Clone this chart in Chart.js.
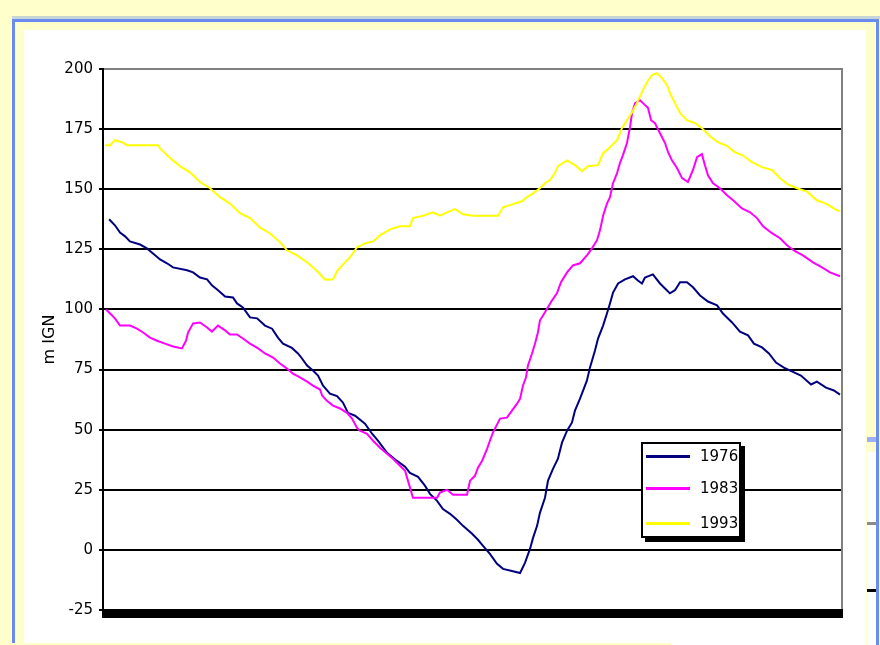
<!DOCTYPE html>
<html>
<head>
<meta charset="utf-8">
<script src="https://cdn.jsdelivr.net/npm/chart.js@4/dist/chart.umd.min.js"></script>
<style>
  html, body { margin: 0; padding: 0; }
  body { width: 880px; height: 645px; overflow: hidden; position: relative; background: #FFFFCC; font-family: "DejaVu Sans", sans-serif; }
  #rule { position: absolute; left: 12px; top: 16px; width: 868px; height: 3px; background: #C6D6D6; }
  #frame { position: absolute; left: 12px; top: 19px; width: 861px; height: 626px; border: 3px solid #6A8CF0; border-bottom: none; }
  #panel { position: absolute; left: 24px; top: 30px; width: 842px; height: 615px; background: #fff; }
  #sidebar { position: absolute; left: 867px; top: 452px; width: 9px; height: 193px; background: #fff; }
  #sideBand { position: absolute; left: 867px; top: 437px; width: 9px; height: 5px; background: #9DB0F2; }
  .dash { position: absolute; left: 867px; width: 9px; height: 3px; }
  #foot { position: absolute; left: 0; top: 643px; width: 671px; height: 2px; background: #FFFFCC; }
  #chart { position: absolute; left: 0; top: 0; }
  #legend { position: absolute; left: 641px; top: 442px; width: 96px; height: 92px; border: 2px solid #000; background: #fff; box-shadow: 4px 4px 0 #000; }
  .row { position: absolute; left: 0; width: 96px; height: 18px; }
  .row .swatch { position: absolute; left: 3px; top: 8px; width: 44px; height: 3px; }
  .row .name { position: absolute; left: 57px; top: 0; line-height: 18px; font-size: 15px; color: #000; }
</style>
</head>
<body>
<div id="rule"></div>
<div id="frame"></div>
<div id="panel"></div>
<div id="sideBand"></div>
<div id="sidebar"></div>
<div class="dash" style="top:522px;background:#8a8a8a"></div>
<div class="dash" style="top:589px;background:#000"></div>
<div id="foot"></div>
<canvas id="chart" width="880" height="645"></canvas>
<div id="legend"></div>

<script>
// Water level (m IGN) through the year, by day of year
const seriesNames = ['1976', '1983', '1993'];

const days1976 = [3.0,5.9,8.4,10.9,13.3,18.3,21.7,24.7,28.2,31.6,
  34.6,41.5,44.5,47.9,51.4,53.8,56.8,60.3,64.2,66.2,
  69.1,72.6,76.1,80.0,83.5,86.4,88.9,93.3,96.3,98.3,
  100.8,103.7,106.2,108.7,112.1,115.6,118.5,121.0,124.5,129.4,
  132.9,135.8,140.3,145.2,149.2,151.6,155.6,159.0,161.5,165.0,
  167.9,171.4,174.8,177.8,182.3,185.2,187.7,191.1,194.6,197.6,
  202.0,206.0,208.4,210.9,212.4,214.4,215.8,218.3,219.8,222.3,
  224.7,226.7,229.2,231.6,233.1,235.6,239.0,240.5,243.0,244.5,
  247.0,248.9,250.4,251.9,254.4,257.8,261.8,264.2,266.2,267.7,
  271.6,275.1,278.1,280.0,282.5,285.0,288.4,291.4,294.9,298.8,
  303.3,306.2,310.7,314.6,318.6,321.5,325.5,328.9,332.4,336.3,
  341.3,344.7,349.7,352.6,357.1,361.0,364.0];
const level1976 = [137.5,135,132,130.4,128.3,127,125.4,123.3,120.8,119.2,
  117.5,116.3,115.4,113.3,112.5,110,108,105.4,105,102.5,
  100.8,96.7,96.3,93.3,92,88.3,85.8,84,81.7,79.6,
  76.7,74.6,72.5,68.3,65,64,61.3,57,55.8,52.5,
  48.3,45.4,40.4,37,34.6,32,30.4,26.7,23.3,20.4,
  17,15,12.5,10,6.7,4.2,1.7,-1.7,-5.8,-7.9,
  -8.8,-9.6,-5.4,0.4,5,10,15.4,21.7,28.8,33.8,
  37.9,44.6,49.6,52.9,57.9,62.9,70.4,75.8,82.9,87.9,
  93.3,98.3,102.5,107,110.8,112.5,113.8,112,110.8,113.3,
  114.6,110.8,108.3,106.7,108,111.3,111.3,109.2,105.8,103.3,
  101.7,98.3,94.6,90.8,89.2,85.8,84.2,81.7,77.9,75.8,
  73.8,72.5,68.8,70,67.5,66.3,64.6];

const days1983 = [1.5,3.5,5.9,8.4,13.3,16.8,19.8,23.2,26.7,30.6,
  34.6,39.0,41.0,42.0,44.5,47.9,51.4,53.8,56.8,60.3,
  62.7,66.2,69.1,72.6,76.6,80.0,84.0,87.4,90.9,93.8,
  97.3,100.8,103.7,107.2,108.2,110.6,113.6,117.1,120.5,123.0,
  125.4,126.9,130.4,133.4,136.8,140.3,143.2,146.7,149.2,150.6,
  152.1,153.1,165.0,166.4,169.9,172.9,179.8,181.3,183.7,185.2,
  187.2,189.7,191.1,192.6,196.1,199.5,202.0,204.5,206.0,207.4,
  208.9,209.9,211.9,213.4,214.8,215.8,218.3,221.8,224.2,226.2,
  229.2,232.1,235.6,239.0,241.5,244.0,245.5,247.0,248.9,250.4,
  251.9,253.9,255.3,256.8,258.8,260.3,261.3,262.8,265.2,266.7,
  269.2,270.7,272.6,275.1,277.6,279.1,281.0,283.5,286.0,288.9,
  291.4,293.4,295.8,297.3,298.8,301.3,304.7,308.2,311.2,315.6,
  319.6,323.0,326.0,330.4,334.4,337.8,341.8,345.7,350.7,355.1,
  359.1,364.0];
const level1983 = [100,98.3,96.3,93.3,93.3,92,90.4,88.3,87,85.8,
  84.6,83.8,87,90.4,94.2,94.6,92.5,90.8,93.3,91.3,
  89.6,89.6,87.9,85.8,83.8,81.7,80,77.5,75.4,73.3,
  71.7,70,68.3,66.7,64.2,62,60,58.8,57,54.6,
  50.8,49.6,48.3,45.4,42.5,40,37.9,35,32.9,28.8,
  24.6,21.7,21.7,23.8,25,22.9,22.9,28.8,30.8,34.2,
  37,42,45.4,48.8,54.6,55,57.9,60.8,62.9,68.3,
  71.7,76.7,81.7,85.8,90.4,95.4,98.8,103.8,106.7,111.3,
  115.4,118.3,119.2,122.5,125.4,128.8,133,139,144,146.7,
  152.5,156.7,160.8,164.2,169.2,175.8,181.7,185.8,187,185.8,
  183.8,178.7,177.5,173.3,169.2,165.4,162,158.8,154.6,153,
  158,163.3,164.6,160,155.8,152.5,150.4,147.5,145.4,142,
  140.4,138,134.6,131.7,129.6,126.7,124.2,122.5,119.6,117.5,
  115.4,113.8];

const days1993 = [1.0,3.5,5.9,9.4,11.9,27.2,28.2,33.1,38.0,43.0,
  47.9,52.9,57.8,62.7,67.7,72.6,77.6,82.5,87.4,90.9,
  95.8,100.8,105.7,109.6,113.6,115.6,119.5,122.0,125.4,129.4,
  133.4,136.8,141.7,146.7,151.6,153.1,158.0,163.0,166.4,169.9,
  173.9,177.8,182.7,195.1,197.6,202.5,206.9,209.4,212.4,215.8,
  218.3,220.8,223.2,224.7,229.2,233.1,236.6,239.5,244.5,247.0,
  250.4,253.9,256.3,258.8,261.3,263.7,266.2,268.7,271.2,273.6,
  276.1,278.6,280.0,282.5,285.0,288.4,292.4,295.8,299.8,303.7,
  308.2,312.1,316.1,320.5,325.5,330.4,334.4,338.3,342.8,347.7,
  352.6,357.6,361.5,364.0];
const level1993 = [168.3,168.3,170.4,169.6,168.3,168.3,167,163,159.6,157,
  153,150.4,146.7,144,140,138,134,131.6,128,124.6,
  122.5,119.6,116,112.5,112.5,116,119.6,121.7,125.8,127.5,
  128.3,130.8,133.3,134.6,134.6,138,139,140.4,139,140.4,
  141.7,139.6,139,139,142.5,143.8,145,146.7,148.3,150.4,
  152.5,153.8,156.7,159.6,162,160,157.5,159.6,160,165,
  167.5,170.4,175.4,178.7,182,185.8,190.4,194.6,197.5,198.3,
  196.2,193.3,190,185.8,181.7,178.7,177.5,175.4,172,169.6,
  168,165.4,164,161.3,159.2,158,154.6,152,150.4,149,
  145.4,143.8,141.7,140.8];

const yTickValues = [-25, 0, 25, 50, 75, 100, 125, 150, 175, 200];

const toPoints = (days, levels) => days.map((d, i) => ({ x: d, y: levels[i] }));

// Plot frame: grey right edge and heavy black base bar
const plotFrame = {
  id: 'plotFrame',
  afterDraw(chart) {
    const { ctx, chartArea: a } = chart;
    ctx.save();
    ctx.fillStyle = '#808080';
    ctx.fillRect(a.right - 1, a.top - 1, 2, a.bottom - a.top + 3);
    ctx.fillStyle = '#000';
    ctx.fillRect(a.left - 1, a.bottom - 1, a.right - a.left + 2, 9);
    ctx.restore();
  }
};

const tickFont = { family: 'DejaVu Sans', size: 15 };

const chart = new Chart(document.getElementById('chart'), {
  type: 'line',
  data: {
    datasets: [
      { label: seriesNames[0], data: toPoints(days1976, level1976), borderColor: '#000080', backgroundColor: '#000080', order: 2 },
      { label: seriesNames[1], data: toPoints(days1983, level1983), borderColor: '#FF00FF', backgroundColor: '#FF00FF', order: 1 },
      { label: seriesNames[2], data: toPoints(days1993, level1993), borderColor: '#FFFF00', backgroundColor: '#FFFF00', order: 0 }
    ]
  },
  options: {
    responsive: false,
    animation: false,
    devicePixelRatio: 1,
    layout: { padding: { left: 0, top: 69, right: 38, bottom: 35 } },
    elements: {
      point: { radius: 0 },
      line: { borderWidth: 2, tension: 0, fill: false }
    },
    plugins: {
      legend: { display: false },
      tooltip: { enabled: false }
    },
    scales: {
      x: { type: 'linear', min: 0, max: 365, display: false },
      y: {
        min: -25,
        max: 200,
        afterFit(scale) { scale.width = 103; },
        afterBuildTicks(scale) { scale.ticks = yTickValues.map(v => ({ value: v })); },
        ticks: { padding: 6, color: '#000', font: tickFont, autoSkip: false },
        grid: {
          color: c => (c.tick && c.tick.value === 200) ? '#808080' : '#000',
          lineWidth: 2,
          tickLength: 4,
          tickColor: '#000',
          drawTicks: true
        },
        border: { display: true, color: '#000', width: 2 },
        title: {
          display: true,
          text: 'm IGN',
          color: '#000',
          font: { family: 'DejaVu Sans', size: 16 },
          padding: { top: 40, bottom: 0 }
        }
      }
    }
  },
  plugins: [plotFrame]
});

// Boxed legend listing each series with its line colour
const legend = document.getElementById('legend');
const rowTops = [3, 35, 70];
chart.data.datasets.forEach((ds, i) => {
  const row = document.createElement('div');
  row.className = 'row';
  row.style.top = rowTops[i] + 'px';
  const sw = document.createElement('div');
  sw.className = 'swatch';
  sw.style.background = ds.borderColor;
  const name = document.createElement('div');
  name.className = 'name';
  name.textContent = ds.label;
  row.appendChild(sw);
  row.appendChild(name);
  legend.appendChild(row);
});
</script>
</body>
</html>
